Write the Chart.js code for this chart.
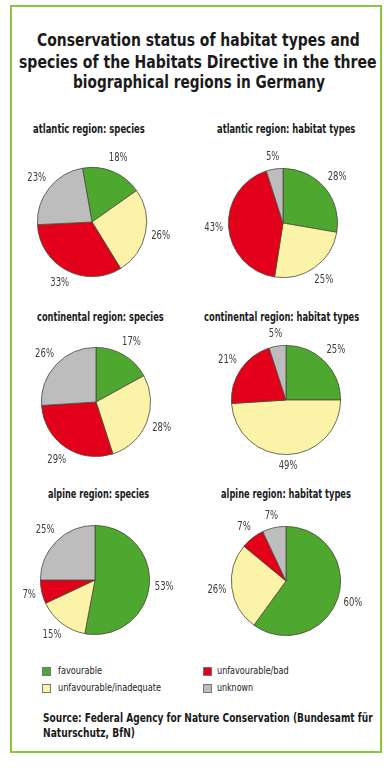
<!DOCTYPE html>
<html>
<head>
<meta charset="utf-8">
<script src="https://cdn.jsdelivr.net/npm/chart.js@4"></script>
<style>
  html, body { margin: 0; padding: 0; background: #fff; }
  body { width: 392px; height: 768px; position: relative; overflow: hidden;
         font-family: "DejaVu Sans Condensed", "Liberation Sans", sans-serif; color: #1a1a1a; }
  .frame { position: absolute; left: 10px; top: 5px; width: 368px; height: 744px;
           border: 2.5px solid #8cc63e; }
  .t { position: absolute; white-space: nowrap; transform-origin: 0 50%; }
  .title { font-weight: bold; font-size: 18px; line-height: 18px; }
  .sub { font-weight: bold; font-size: 11.5px; line-height: 12px; }
  .leg { font-size: 11px; line-height: 12px; color: #222; }
  .src { font-weight: bold; font-size: 13px; line-height: 14px; }
  .box { position: absolute; width: 7px; height: 7px; border: 1px solid #777; }
  .pie { position: absolute; width: 180px; height: 160px; }
</style>
</head>
<body>
<div class="frame"></div>

<div class="t title" data-x="37" data-y="40" data-w="323">Conservation status of habitat types and</div>
<div class="t title" data-x="19" data-y="62" data-w="358">species of the Habitats Directive in the three</div>
<div class="t title" data-x="73" data-y="82" data-w="252">biographical regions in Germany</div>

<div class="t sub" data-x="33" data-y="129" data-w="112">atlantic region: species</div>
<div class="t sub" data-x="217" data-y="129" data-w="138">atlantic region: habitat types</div>
<div class="t sub" data-x="37" data-y="317" data-w="127">continental region: species</div>
<div class="t sub" data-x="204" data-y="317" data-w="155">continental region: habitat types</div>
<div class="t sub" data-x="48" data-y="494" data-w="101">alpine region: species</div>
<div class="t sub" data-x="221" data-y="494" data-w="130">alpine region: habitat types</div>

<div class="pie" style="left:2px; top:142px"><canvas id="c1"></canvas></div>
<div class="pie" style="left:193px; top:143px"><canvas id="c2"></canvas></div>
<div class="pie" style="left:6px; top:322px"><canvas id="c3"></canvas></div>
<div class="pie" style="left:196px; top:320px"><canvas id="c4"></canvas></div>
<div class="pie" style="left:5px; top:500px"><canvas id="c5"></canvas></div>
<div class="pie" style="left:196px; top:501px"><canvas id="c6"></canvas></div>

<div class="box" style="left:42px; top:667px; background:#4ea72e"></div>
<div class="box" style="left:203px; top:667px; background:#e2001a"></div>
<div class="box" style="left:42px; top:684px; background:#fbf3a7"></div>
<div class="box" style="left:203px; top:684px; background:#bdbdbd"></div>
<div class="t leg" data-x="58" data-y="671" data-w="44">favourable</div>
<div class="t leg" data-x="217" data-y="671" data-w="72">unfavourable/bad</div>
<div class="t leg" data-x="58" data-y="688" data-w="103">unfavourable/inadequate</div>
<div class="t leg" data-x="217" data-y="688" data-w="36">unknown</div>

<div class="t src" data-x="43" data-y="718" data-w="330">Source: Federal Agency for Nature Conservation (Bundesamt für</div>
<div class="t src" data-x="43" data-y="733" data-w="92">Naturschutz, BfN)</div>

<script>
const categories = ["favourable", "unfavourable/inadequate", "unfavourable/bad", "unknown"];
const colors = ["#4ea72e", "#fbf3a7", "#e2001a", "#bdbdbd"];

const atlanticSpecies = [18, 26, 33, 23];
const atlanticHabitats = [28, 25, 43, 5];
const continentalSpecies = [17, 28, 29, 26];
const continentalHabitats = [25, 49, 21, 5];
const alpineSpecies = [53, 15, 7, 25];
const alpineHabitats = [60, 26, 7, 7];

// squeeze each text line to the width of the narrow original typeface
document.querySelectorAll(".t").forEach(el => {
  const w = el.offsetWidth;
  const h = el.offsetHeight;
  el.style.left = el.dataset.x + "px";
  el.style.top = (el.dataset.y - h / 2) + "px";
  el.style.transform = "scaleX(" + (el.dataset.w / w) + ")";
});

// percent labels just outside each slice
const pctLabels = {
  id: "pctLabels",
  afterDatasetsDraw(chart) {
    const ctx = chart.ctx;
    const values = chart.data.datasets[0].data;
    const meta = chart.getDatasetMeta(0);
    const sx = 0.82;
    ctx.save();
    ctx.font = "11.5px 'DejaVu Sans Condensed', sans-serif";
    ctx.fillStyle = "#3c3c3c";
    ctx.textAlign = "center";
    ctx.textBaseline = "middle";
    meta.data.forEach((arc, i) => {
      const p = arc.getProps(["x", "y", "startAngle", "endAngle", "outerRadius"], true);
      const mid = (p.startAngle + p.endAngle) / 2;
      const txt = values[i] + "%";
      const hw = ctx.measureText(txt).width * sx / 2;
      const r = p.outerRadius + 5 + Math.abs(Math.cos(mid)) * hw + Math.abs(Math.sin(mid)) * 6;
      const lx = p.x + Math.cos(mid) * r;
      const ly = p.y + Math.sin(mid) * r;
      ctx.save();
      ctx.translate(lx, ly);
      ctx.scale(sx, 1);
      ctx.fillText(txt, 0, 0);
      ctx.restore();
    });
    ctx.restore();
  }
};

function makePie(id, values, rotation) {
  new Chart(document.getElementById(id), {
    type: "pie",
    data: {
      labels: categories,
      datasets: [{
        data: values,
        backgroundColor: colors,
        borderColor: "#4a4a3a",
        borderWidth: 0.8
      }]
    },
    options: {
      responsive: true,
      maintainAspectRatio: false,
      animation: false,
      rotation: rotation || 0,
      layout: { padding: { top: 25, bottom: 25, left: 15, right: 15 } },
      plugins: {
        legend: { display: false },
        tooltip: { enabled: false }
      }
    },
    plugins: [pctLabels]
  });
}

makePie("c1", atlanticSpecies, -10);
makePie("c2", atlanticHabitats);
makePie("c3", continentalSpecies);
makePie("c4", continentalHabitats);
makePie("c5", alpineSpecies);
makePie("c6", alpineHabitats);
</script>
</body>
</html>
